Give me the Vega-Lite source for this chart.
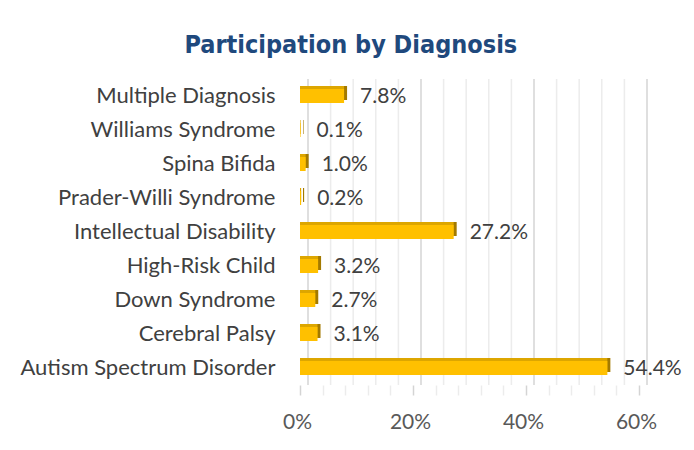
{
  "$schema": "https://vega.github.io/schema/vega-lite/v6.json",
  "width": 339,
  "height": 306,
  "autosize": {"type": "none"},
  "padding": {"left": 300, "top": 79, "right": 55, "bottom": 65},
  "background": "white",
  "config": {"view": {"stroke": null}},
  "title": {
    "text": "Participation by Diagnosis",
    "font": "'DejaVu Sans Condensed', 'Liberation Sans', sans-serif",
    "fontSize": 25,
    "fontWeight": "bold",
    "color": "#1F497D",
    "anchor": "middle",
    "frame": "bounds",
    "offset": 20
  },
  "datasets": {
    "diag": [
      {"name": "Multiple Diagnosis", "value": 0.078},
      {"name": "Williams Syndrome", "value": 0.001},
      {"name": "Spina Bifida", "value": 0.010},
      {"name": "Prader-Willi Syndrome", "value": 0.002},
      {"name": "Intellectual Disability", "value": 0.272},
      {"name": "High-Risk Child", "value": 0.032},
      {"name": "Down Syndrome", "value": 0.027},
      {"name": "Cerebral Palsy", "value": 0.031},
      {"name": "Autism Spectrum Disorder", "value": 0.544}
    ],
    "grid": [
      {"v": 0}, {"v": 0.04}, {"v": 0.08}, {"v": 0.12}, {"v": 0.16}, {"v": 0.2},
      {"v": 0.24}, {"v": 0.28}, {"v": 0.32}, {"v": 0.36}, {"v": 0.4},
      {"v": 0.44}, {"v": 0.48}, {"v": 0.52}, {"v": 0.56}, {"v": 0.6}
    ]
  },
  "layer": [
    {
      "data": {"name": "grid"},
      "mark": {"type": "rule", "xOffset": 8, "strokeWidth": 1.5},
      "encoding": {
        "x": {
          "field": "v", "type": "quantitative", "title": null,
          "scale": {"domain": [0, 0.6], "nice": false},
          "axis": {
            "values": [0, 0.04, 0.08, 0.12, 0.16, 0.2, 0.24, 0.28, 0.32, 0.36, 0.4, 0.44, 0.48, 0.52, 0.56, 0.6],
            "tickCount": 20,
            "format": ".0%",
            "labelExpr": "indexof(['0%','20%','40%','60%'], datum.label) >= 0 ? datum.label : ''",
            "labelOverlap": false, "labelFlush": false, "labelSeparation": 0,
            "grid": false, "domain": false,
            "tickSize": 10, "tickWidth": 1.5,
            "tickColor": {"condition": {"test": "indexof([0, 20, 40, 60], round(datum.value*100)) >= 0", "value": "#d4d4d4"}, "value": "#ececec"},
            "labelPadding": 16, "labelOffset": -3,
            "labelFont": "Lato", "labelFontSize": 21, "labelColor": "#595959"
          }
        },
        "color": {
          "condition": {"test": "indexof([0, 20, 40, 60], round(datum.v*100)) >= 0", "value": "#d4d4d4"},
          "value": "#ececec"
        }
      }
    },
    {
      "data": {"name": "diag"},
      "mark": {"type": "bar", "size": 14, "color": "#A37A00", "xOffset": 3, "yOffset": -3},
      "encoding": {
        "y": {
          "field": "name", "type": "nominal", "sort": null, "title": null,
          "axis": {
            "domain": false, "ticks": false, "labelPadding": 25, "labelLimit": 0,
            "labelFont": "Lato", "labelFontSize": 22, "labelColor": "#404040"
          }
        },
        "x": {"field": "value", "type": "quantitative"}
      }
    },
    {
      "data": {"name": "diag"},
      "mark": {"type": "bar", "size": 14, "color": "#DDA600", "yOffset": -3},
      "encoding": {
        "y": {"field": "name", "type": "nominal", "sort": null},
        "x": {"field": "value", "type": "quantitative"}
      }
    },
    {
      "data": {"name": "diag"},
      "mark": {"type": "bar", "size": 14, "color": "#FFC000"},
      "encoding": {
        "y": {"field": "name", "type": "nominal", "sort": null},
        "x": {"field": "value", "type": "quantitative"}
      }
    },
    {
      "data": {"name": "diag"},
      "mark": {"type": "text", "align": "left", "baseline": "middle", "dx": 16, "dy": 1, "font": "Lato", "fontSize": 21, "color": "#404040"},
      "encoding": {
        "y": {"field": "name", "type": "nominal", "sort": null},
        "x": {"field": "value", "type": "quantitative"},
        "text": {"field": "value", "type": "quantitative", "format": ".1%"}
      }
    }
  ]
}
